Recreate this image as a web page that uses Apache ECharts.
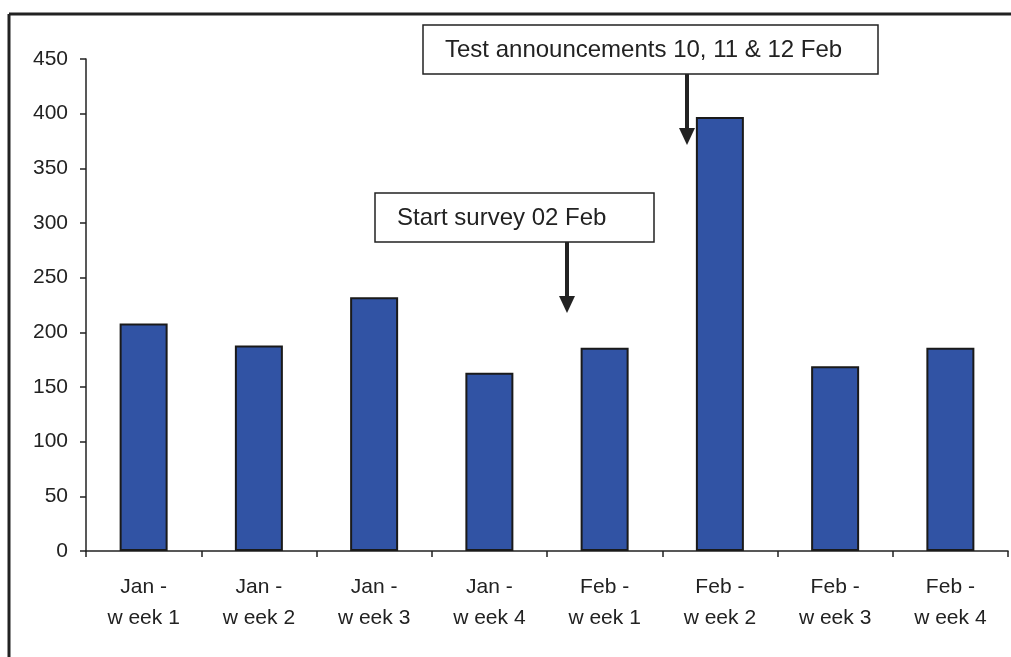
<!DOCTYPE html>
<html>
<head>
<meta charset="utf-8">
<script src="https://cdn.jsdelivr.net/npm/echarts@6/dist/echarts.min.js"></script>
<style>
  html, body { margin: 0; padding: 0; background: #fff; }
  #chart { width: 1011px; height: 657px; }
</style>
</head>
<body>
<div id="chart"></div>
<script>
// weekly counts
var categories = ['Jan -\nw eek 1', 'Jan -\nw eek 2', 'Jan -\nw eek 3', 'Jan -\nw eek 4',
                  'Feb -\nw eek 1', 'Feb -\nw eek 2', 'Feb -\nw eek 3', 'Feb -\nw eek 4'];
var values = [208, 188, 232, 163, 186, 397, 169, 186];
var yTicks = [0, 50, 100, 150, 200, 250, 300, 350, 400, 450];

var notes = ['Test announcements 10, 11 & 12 Feb', 'Start survey 02 Feb'];

var ink = '#222';
var font = 'Liberation Sans, Arial, sans-serif';

var chart = echarts.init(document.getElementById('chart'));

chart.setOption({
  animation: false,
  grid: { left: 86, right: 3, top: 59, bottom: 106, containLabel: false },
  xAxis: {
    type: 'category',
    data: categories,
    axisLine: { lineStyle: { color: ink, width: 1.5 } },
    axisTick: { show: true, length: 6, lineStyle: { color: ink, width: 1.5 } },
    axisLabel: {
      color: ink, fontSize: 21, fontFamily: font,
      lineHeight: 31, margin: 21, interval: 0
    },
    splitLine: { show: false }
  },
  yAxis: {
    type: 'value',
    min: yTicks[0],
    max: yTicks[yTicks.length - 1],
    interval: 50,
    axisLine: { show: true, lineStyle: { color: ink, width: 1.5 } },
    axisTick: { show: true, length: 6, lineStyle: { color: ink, width: 1.5 } },
    axisLabel: { color: ink, fontSize: 21, fontFamily: font, margin: 18 },
    splitLine: { show: false }
  },
  series: [{
    type: 'bar',
    data: values,
    barWidth: 48,
    itemStyle: { color: '#3153a4', borderColor: '#1a1a1a', borderWidth: 2 }
  }],
  graphic: [
    // chart frame (top + left edges)
    { type: 'line', shape: { x1: 9, y1: 14, x2: 1011, y2: 14 }, style: { stroke: ink, lineWidth: 3 } },
    { type: 'line', shape: { x1: 9, y1: 14, x2: 9, y2: 657 }, style: { stroke: ink, lineWidth: 3 } },

    // annotation 1
    { type: 'rect', shape: { x: 423, y: 25, width: 455, height: 49 },
      style: { fill: '#fff', stroke: ink, lineWidth: 1.5 } },
    { type: 'text', x: 445, y: 50,
      style: { text: notes[0], fill: ink, font: '24px ' + font, textVerticalAlign: 'middle' } },
    { type: 'line', shape: { x1: 687, y1: 74, x2: 687, y2: 132 }, style: { stroke: ink, lineWidth: 4 } },
    { type: 'polygon', shape: { points: [[679, 128], [695, 128], [687, 145]] }, style: { fill: ink } },

    // annotation 2
    { type: 'rect', shape: { x: 375, y: 193, width: 279, height: 49 },
      style: { fill: '#fff', stroke: ink, lineWidth: 1.5 } },
    { type: 'text', x: 397, y: 218,
      style: { text: notes[1], fill: ink, font: '24px ' + font, textVerticalAlign: 'middle' } },
    { type: 'line', shape: { x1: 567, y1: 242, x2: 567, y2: 300 }, style: { stroke: ink, lineWidth: 4 } },
    { type: 'polygon', shape: { points: [[559, 296], [575, 296], [567, 313]] }, style: { fill: ink } }
  ]
});
</script>
</body>
</html>
